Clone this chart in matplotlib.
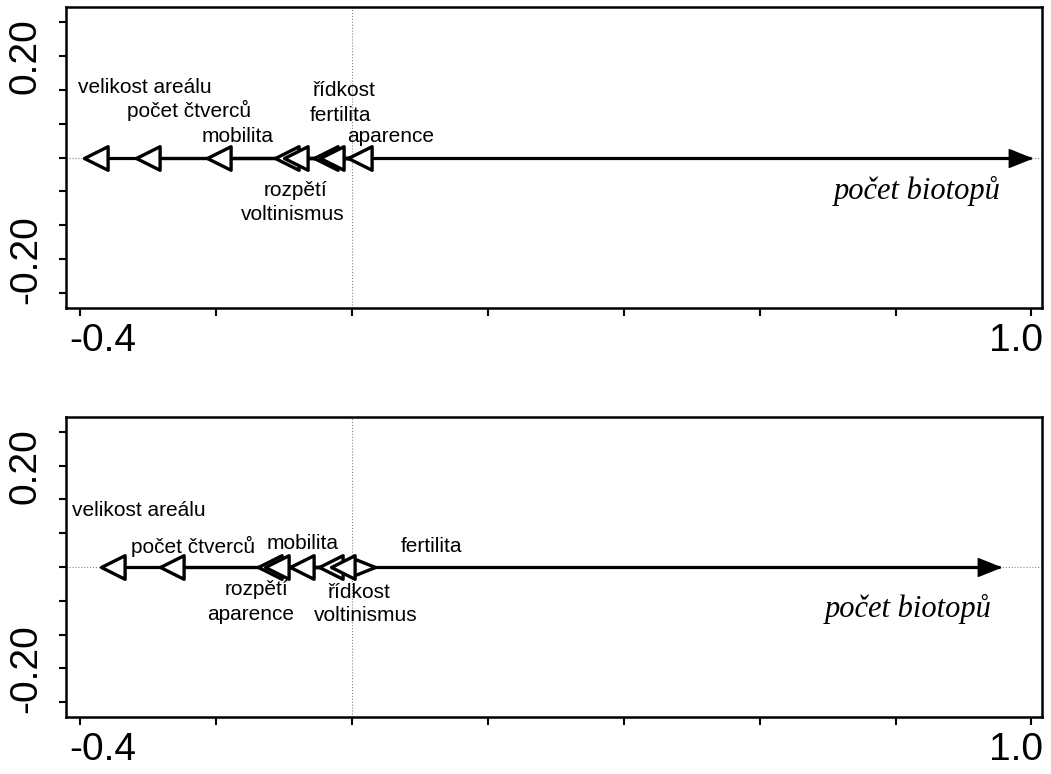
import matplotlib
matplotlib.use("Agg")
import matplotlib.pyplot as plt
from matplotlib.path import Path

# scores on the first axis, upper and lower panel
top_names = ["velikost areálu", "počet čtverců", "mobilita", "rozpětí",
             "voltinismus", "řídkost", "fertilita", "aparence"]
top_scores = [-0.394, -0.317, -0.213, -0.112, -0.100, -0.055, -0.046, -0.005]
top_env = "počet biotopů"
top_env_score = 1.0

bottom_names = ["velikost areálu", "počet čtverců", "rozpětí", "aparence",
                "mobilita", "řídkost", "voltinismus", "fertilita"]
bottom_scores = [-0.369, -0.282, -0.137, -0.128, -0.090, -0.048, -0.030, 0.035]
bottom_env = "počet biotopů"
bottom_env_score = 0.953

x_ticks = [-0.4, -0.2, 0.0, 0.2, 0.4, 0.6, 0.8, 1.0]
x_tick_labels = ["-0.4", "", "", "", "", "", "", "1.0"]
y_ticks = [k * 0.2 / 3 for k in range(-4, 5)]
y_tick_labels = ["", "-0.20", "", "", "", "", "", "0.20", ""]

# label placement (data coords), layout only
top_label_pos = {
    "velikost areálu": (-0.304, 0.138),
    "počet čtverců": (-0.239, 0.093),
    "mobilita": (-0.167, 0.041),
    "řídkost": (-0.012, 0.132),
    "fertilita": (-0.016, 0.083),
    "aparence": (0.058, 0.041),
    "rozpětí": (-0.083, -0.065),
    "voltinismus": (-0.086, -0.112),
}
top_env_pos = (0.832, -0.065)
bottom_label_pos = {
    "velikost areálu": (-0.313, 0.112),
    "počet čtverců": (-0.233, 0.041),
    "mobilita": (-0.072, 0.047),
    "fertilita": (0.117, 0.041),
    "rozpětí": (-0.140, -0.045),
    "aparence": (-0.148, -0.093),
    "řídkost": (0.010, -0.051),
    "voltinismus": (0.021, -0.096),
}
bottom_env_pos = (0.819, -0.083)

SANS = "Liberation Sans"
SERIF = "Liberation Serif"

# arrow heads with the tip at the origin of the marker
left_head = Path([(0, 0), (1, 0.5), (1, -0.5), (0, 0)],
                 [Path.MOVETO, Path.LINETO, Path.LINETO, Path.CLOSEPOLY])
right_head = Path([(0, 0), (-1, 0.4), (-1, -0.4), (0, 0)],
                  [Path.MOVETO, Path.LINETO, Path.LINETO, Path.CLOSEPOLY])


def draw_panel(ax, names, scores, env, env_score, label_pos, env_pos):
    ax.set_xlim(-0.42, 1.0154)
    ax.set_ylim(-0.296, 0.296)
    ax.axvline(0, color="#888888", lw=0.8, ls=":", zorder=0)
    ax.axhline(0, color="#888888", lw=0.8, ls=":", zorder=0)

    # environmental arrow, filled head
    ax.plot([0, env_score], [0, 0], color="black", lw=2.3, solid_capstyle="butt")
    ax.plot([env_score], [0], marker=right_head, ms=32, color="black",
            mec="black", mew=1.0)

    # species arrows, longest first so the short heads sit on top
    order = sorted(range(len(scores)), key=lambda i: -abs(scores[i]))
    for i in order:
        s = scores[i]
        ax.plot([0, s], [0, 0], color="black", lw=2.3, solid_capstyle="butt")
        head = left_head if s < 0 else right_head
        ax.plot([s], [0], marker=head, ms=34, mfc="white", mec="black", mew=2.4)

    for n in names:
        x, y = label_pos[n]
        ax.text(x, y, n, ha="center", va="center", fontsize=15, family=SANS)
    ax.text(env_pos[0], env_pos[1], env, ha="center", va="center",
            fontsize=22, family=SERIF, style="italic")

    ax.set_xticks(x_ticks)
    ax.set_xticklabels([])
    ax.set_yticks(y_ticks)
    ax.set_yticklabels(y_tick_labels, rotation=90, va="center",
                       fontsize=28, family=SANS)
    ax.tick_params(axis="x", direction="out", length=6, width=1.5)
    ax.tick_params(axis="y", direction="out", length=5, width=1.5, pad=11)
    for t, lab in zip(x_ticks, x_tick_labels):
        if not lab:
            continue
        dx = 17 if t < 0 else -11.5
        ax.annotate(lab, xy=(t, 0), xycoords=ax.get_xaxis_transform(),
                    xytext=(dx, -11), textcoords="offset points",
                    ha="center", va="top", fontsize=28, family=SANS)
    for sp in ax.spines.values():
        sp.set_linewidth(1.8)


fig = plt.figure(figsize=(10.51, 7.74), dpi=100)
ax1 = fig.add_axes([0.0628, 0.602, 0.9286, 0.389])
ax2 = fig.add_axes([0.0628, 0.0736, 0.9286, 0.3876])

draw_panel(ax1, top_names, top_scores, top_env, top_env_score,
           top_label_pos, top_env_pos)
draw_panel(ax2, bottom_names, bottom_scores, bottom_env, bottom_env_score,
           bottom_label_pos, bottom_env_pos)

fig.savefig("out.png", dpi=100)
